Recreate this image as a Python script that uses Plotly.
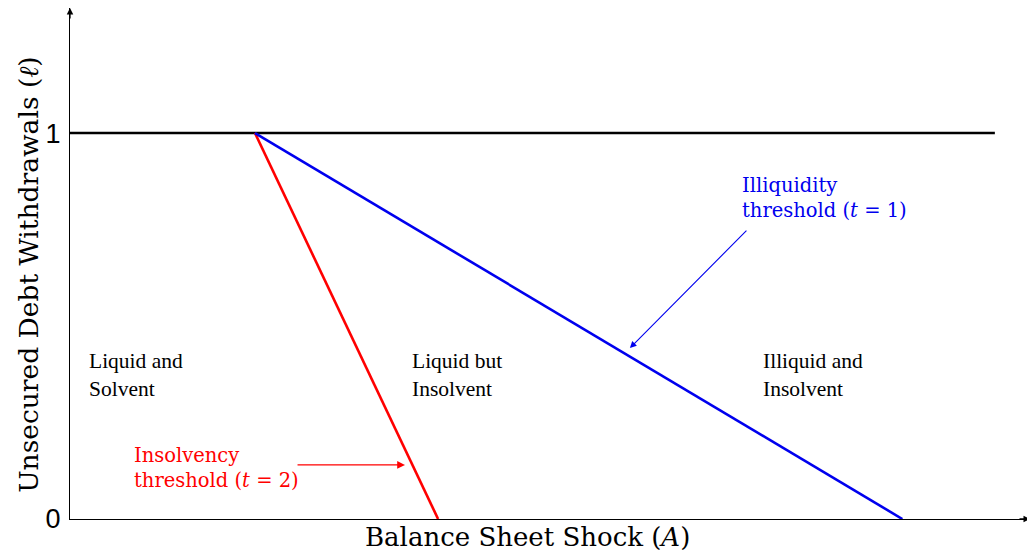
import plotly.graph_objects as go

# Data (A = balance sheet shock, l = withdrawals)
liquidity_x = [0, 5.0]
liquidity_y = [1, 1]
insolvency_x = [1.0, 1.99]
insolvency_y = [1, 0]
illiquidity_x = [1.0, 4.5]
illiquidity_y = [1, 0]

y_tick_vals = [0, 1]
y_tick_text = ["0", "1"]

region_labels = ["Liquid and<br>Solvent", "Liquid but<br>Insolvent", "Illiquid and<br>Insolvent"]
region_x = [0.092, 1.838, 3.735]
region_y = [0.373, 0.373, 0.373]

CM = "DejaVu Serif"
TIMES = "Liberation Serif"

fig = go.Figure()
fig.add_trace(go.Scatter(x=liquidity_x, y=liquidity_y, mode="lines",
                         line=dict(color="black", width=2.6), showlegend=False, hoverinfo="skip"))
fig.add_trace(go.Scatter(x=insolvency_x, y=insolvency_y, mode="lines",
                         line=dict(color="#ff0000", width=2.6), showlegend=False, hoverinfo="skip"))
fig.add_trace(go.Scatter(x=illiquidity_x, y=illiquidity_y, mode="lines",
                         line=dict(color="#0000ee", width=2.6), showlegend=False, hoverinfo="skip"))

for txt, x, y in zip(region_labels, region_x, region_y):
    fig.add_annotation(x=x, y=y, text=txt, showarrow=False, xanchor="left", yanchor="middle",
                       align="left", font=dict(family=TIMES, size=21.5, color="black"))

# Threshold labels
fig.add_annotation(x=0.335, y=0.132, text="Insolvency<br>threshold (<i>t</i> = 2)", showarrow=False,
                   xanchor="left", yanchor="middle", align="left",
                   font=dict(family=CM, size=19.5, color="#ff0000"))
fig.add_annotation(x=3.622, y=0.832, text="Illiquidity<br>threshold (<i>t</i> = 1)", showarrow=False,
                   xanchor="left", yanchor="middle", align="left",
                   font=dict(family=CM, size=19.5, color="#0000ee"))

# Pointer arrows
fig.add_annotation(x=1.811, y=0.140, ax=1.222, ay=0.140, axref="x", ayref="y", xref="x", yref="y",
                   text="", showarrow=True, arrowhead=2, arrowsize=1.2, arrowwidth=1.3, arrowcolor="#ff0000")
fig.add_annotation(x=3.027, y=0.443, ax=3.665, ay=0.751, axref="x", ayref="y", xref="x", yref="y",
                   text="", showarrow=True, arrowhead=2, arrowsize=1.2, arrowwidth=1.1, arrowcolor="#0000ee")

# Axis arrowheads
XMAX, YMAX = 5.19, 1.324
fig.add_annotation(x=XMAX, y=0, ax=-12, ay=0, text="", showarrow=True, arrowhead=2,
                   arrowsize=1, arrowwidth=1.3, arrowcolor="black")
fig.add_annotation(x=0, y=YMAX, ax=0, ay=12, text="", showarrow=True, arrowhead=2,
                   arrowsize=1, arrowwidth=1.3, arrowcolor="black")

# Axis titles
fig.add_annotation(xref="paper", yref="paper", x=0.477, y=-0.035, text="Balance Sheet Shock (<i>A</i>)",
                   showarrow=False, xanchor="center", yanchor="middle",
                   font=dict(family=CM, size=26, color="black"))
fig.add_annotation(xref="paper", yref="paper", x=-0.0427, y=0.478, text="Unsecured Debt Withdrawals (<i>ℓ</i>)",
                   showarrow=False, textangle=-90, xanchor="center", yanchor="middle",
                   font=dict(family=CM, size=26.5, color="black"))

fig.update_xaxes(range=[0, XMAX], showline=True, linecolor="black", linewidth=1.3,
                 showgrid=False, zeroline=False, showticklabels=False, ticks="")
fig.update_yaxes(range=[0, YMAX], showline=True, linecolor="black", linewidth=1.3,
                 showgrid=False, zeroline=False, tickvals=y_tick_vals, ticktext=y_tick_text,
                 ticks="", ticklabelstandoff=3,
                 tickfont=dict(family="Liberation Sans", size=27, color="black"))

fig.update_layout(width=1027, height=547, plot_bgcolor="white", paper_bgcolor="white",
                  margin=dict(l=62, r=5, t=0, b=36))

fig.write_html("out.html")
